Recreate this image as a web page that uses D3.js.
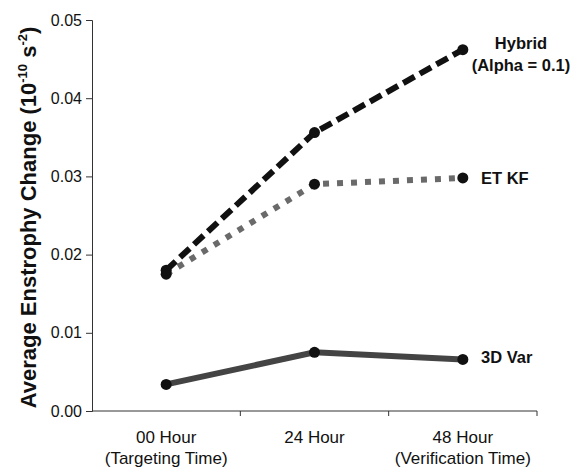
<!DOCTYPE html>
<html>
<head>
<meta charset="utf-8">
<script src="https://cdn.jsdelivr.net/npm/d3@7"></script>
<style>
  body { margin: 0; background: #fff; }
  svg { font-family: "Liberation Sans", Arial, sans-serif; }
</style>
</head>
<body>
<div id="vis-holder"></div>
<script>
// Categories and values
const categories = ["00 Hour", "24 Hour", "48 Hour"];
const subLabels = ["(Targeting Time)", "", "(Verification Time)"];
const hybrid = [0.0180, 0.0356, 0.0462];
const etkf = [0.0175, 0.0290, 0.0298];
const var3d = [0.0034, 0.0075, 0.0066];
const yTicks = [0, 0.01, 0.02, 0.03, 0.04, 0.05];

const width = 576, height = 469;
const margin = { top: 20, right: 39, bottom: 58, left: 92 };

const svg = d3.select("#vis-holder")
  .append("svg")
  .attr("width", width)
  .attr("height", height);

const x = d3.scaleBand()
  .domain(categories)
  .range([margin.left, width - margin.right]);

const y = d3.scaleLinear()
  .domain([0, 0.05])
  .range([height - margin.bottom, margin.top]);

const cx = (i) => x(categories[i]) + x.bandwidth() / 2;

// Y axis
svg.append("g")
  .attr("transform", `translate(${margin.left},0)`)
  .call(d3.axisLeft(y).tickValues(yTicks).tickFormat(d3.format(".2f")).tickSize(6).tickPadding(4))
  .call((g) => g.select(".domain").attr("stroke", "#333"))
  .call((g) => g.selectAll(".tick line").attr("stroke", "#333"))
  .call((g) => g.selectAll("text").attr("font-size", "16px").attr("fill", "#111"));

// X axis: ticks at band boundaries
const xBottom = height - margin.bottom;
svg.append("line")
  .attr("x1", margin.left).attr("x2", width - margin.right)
  .attr("y1", xBottom).attr("y2", xBottom)
  .attr("stroke", "#333");
categories.forEach((c, i) => {
  const bx = x(c) + x.bandwidth();
  svg.append("line")
    .attr("x1", bx).attr("x2", bx)
    .attr("y1", xBottom).attr("y2", xBottom + 5)
    .attr("stroke", "#333");
  svg.append("text")
    .attr("x", cx(i)).attr("y", xBottom + 32)
    .attr("text-anchor", "middle")
    .attr("font-size", "17px").attr("fill", "#111")
    .text(c);
  svg.append("text")
    .attr("x", cx(i)).attr("y", xBottom + 53)
    .attr("text-anchor", "middle")
    .attr("font-size", "17px").attr("fill", "#111")
    .text(subLabels[i]);
});

// Y axis title
const yTitle = svg.append("text")
  .attr("transform", `translate(36,${(margin.top + xBottom) / 2 + 2}) rotate(-90)`)
  .attr("text-anchor", "middle")
  .attr("font-size", "22px").attr("font-weight", "bold").attr("fill", "#111");
yTitle.append("tspan").text("Average Enstrophy Change (10");
yTitle.append("tspan").attr("dy", -9).attr("font-size", "13px").text("-10");
yTitle.append("tspan").attr("dy", 9).text(" s");
yTitle.append("tspan").attr("dy", -9).attr("font-size", "13px").text("-2");
yTitle.append("tspan").attr("dy", 9).text(")");

const line = d3.line().x((d, i) => cx(i)).y((d) => y(d));

const series = [
  { name: "3D Var", values: var3d, stroke: "#444", dash: null },
  { name: "ET KF", values: etkf, stroke: "#6a6a6a", dash: "6,8" },
  { name: "Hybrid", values: hybrid, stroke: "#111", dash: "13,6" }
];

series.forEach((s) => {
  svg.append("path")
    .datum(s.values)
    .attr("d", line)
    .attr("fill", "none")
    .attr("stroke", s.stroke)
    .attr("stroke-width", 6)
    .attr("stroke-dasharray", s.dash);
  svg.selectAll(null)
    .data(s.values)
    .enter()
    .append("circle")
    .attr("cx", (d, i) => cx(i))
    .attr("cy", (d) => y(d))
    .attr("r", 5.5)
    .attr("fill", "#111");
});

// Series labels
const lab = (txt, xx, yy, anchor) => svg.append("text")
  .attr("x", xx).attr("y", yy)
  .attr("text-anchor", anchor)
  .attr("font-size", "16.5px").attr("font-weight", "bold").attr("fill", "#111")
  .text(txt);
lab("Hybrid", 521, 49, "middle");
lab("(Alpha = 0.1)", 521, 71, "middle");
lab("ET KF", 481, 184, "start");
lab("3D Var", 481, 363, "start");
</script>
</body>
</html>
